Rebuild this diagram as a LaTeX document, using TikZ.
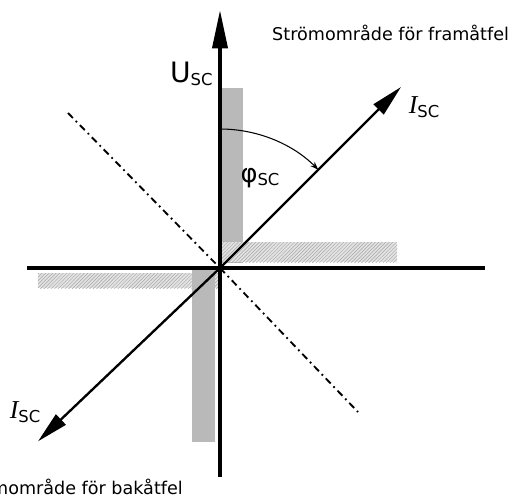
\documentclass[tikz,border=0pt]{standalone}
\usepackage{fontspec}
\setmainfont{DejaVu Sans}
\newfontfamily\isfont{Liberation Serif}
\usetikzlibrary{arrows.meta,patterns}

\newcommand\lowsub[1]{\raisebox{-0.55ex}{\fontsize{14}{15}\selectfont #1}}
\newcommand\ilab{{\fontsize{22}{23}\selectfont\isfont\itshape I}\lowsub{SC}}

\begin{document}
\begin{tikzpicture}[
  axis/.style={line width=3.2pt},
  bigtip/.style={-{Triangle[length=1.15cm, width=0.45cm]}},
  vec/.style={line width=2pt, -{Triangle[length=0.95cm, width=0.42cm]}},
  ddot/.style={line width=1.6pt, dash pattern=on 6pt off 3.5pt on 1.5pt off 3.5pt},
  darkband/.style={fill=gray!55},
  lightband/.style={fill=gray!22},
  hatch/.style={pattern=north east lines, pattern color=gray!70},
  lbl/.style={inner sep=0pt}
]
\useasboundingbox (-6.6,-6.9) rectangle (8.76,8.04);

% shaded current regions
\fill[darkband] (0.05,0.15) rectangle (0.69,5.4);
\fill[lightband] (0.05,0.18) rectangle (5.31,0.78);
\fill[hatch] (0.05,0.18) rectangle (5.31,0.78);
\fill[lightband] (-5.46,-0.15) rectangle (0,-0.6);
\fill[hatch] (-5.46,-0.15) rectangle (0,-0.6);
\fill[darkband] (-0.84,-0.05) rectangle (-0.15,-5.22);

\coordinate (O) at (0,0);
\coordinate (utop) at (0,7.74);
\coordinate (ubot) at (0,-6.27);
\coordinate (hleft) at (-5.79,0);
\coordinate (hright) at (7.95,0);
\coordinate (ifw) at (5.43,5.43);
\coordinate (ibw) at (-5.46,-5.2);
\coordinate (dul) at (-4.56,4.65);
\coordinate (dlr) at (4.14,-4.32);
\coordinate (arcs) at (0,4.17);

% dash-dot boundary
\draw[ddot] (dul) -- (O);
\draw[ddot] (O) -- (dlr);

% axes
\draw[axis] (hleft) -- (hright);
\draw[axis, bigtip] (ubot) -- (utop);

% current vectors
\draw[vec] (O) -- (ifw);
\draw[vec] (O) -- (ibw);

% angle
\draw[line width=0.9pt, -{Stealth[length=7pt, width=5pt]}] (arcs) arc[start angle=90, end angle=45, radius=4.17];

\node[lbl] (usc) at (-0.86,5.82) {{\fontsize{24}{25}\selectfont U}\lowsub{SC}};
\node[lbl] (iup) at (6.12,4.83) {\ilab};
\node[lbl] (idn) at (-5.85,-4.32) {\ilab};
\node[lbl] (phi) at (1.2,2.7) {{\fontsize{22}{23}\selectfont φ}\lowsub{SC}};
\node[lbl, anchor=west] (fram) at (1.56,7.05) {\fontsize{15}{17}\selectfont Strömområde för framåtfel};
\node[lbl, anchor=east] (bak) at (-1.11,-6.57) {\fontsize{15}{17}\selectfont Strömområde för bakåtfel};
\end{tikzpicture}
\end{document}
